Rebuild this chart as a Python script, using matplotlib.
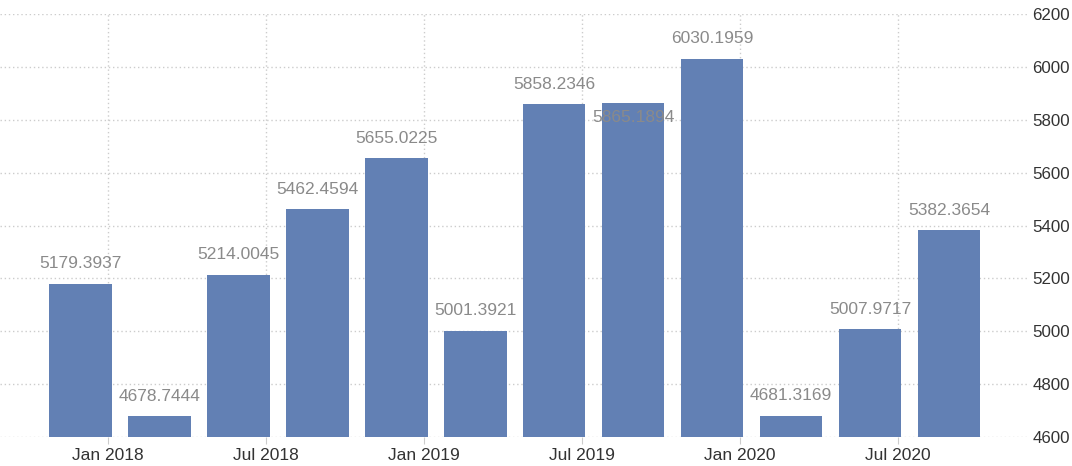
import numpy as np
import matplotlib
matplotlib.use('Agg')
import matplotlib.pyplot as plt

# quarterly values, Q4 2017 .. Q3 2020
values = [5179.3937, 4678.7444, 5214.0045, 5462.4594, 5655.0225, 5001.3921,
          5858.2346, 5865.1894, 6030.1959, 4681.3169, 5007.9717, 5382.3654]
tick_labels = ['Jan 2018', 'Jul 2018', 'Jan 2019', 'Jul 2019', 'Jan 2020', 'Jul 2020']
y_ticks = [4600, 4800, 5000, 5200, 5400, 5600, 5800, 6000, 6200]

plt.rcParams['font.family'] = ['Liberation Sans', 'DejaVu Sans']

fig = plt.figure(figsize=(10.72, 4.66), dpi=100)
ax = fig.add_axes([0.0, 0.062, 0.959, 0.908])

x = np.arange(len(values))
ax.bar(x, values, width=0.79, color='#6280b4', zorder=3)

for i, v in enumerate(values):
    # label of bar 8 got pushed into the bar in the original
    dy = -15 if i == 7 else 20
    ax.annotate('%.4f' % v, (x[i], v), xytext=(0, dy), textcoords='offset pixels',
                ha='center', va='center', fontsize=12.5, color='#8a8a8a', zorder=4)

ax.set_xlim(-1.02, 12.0)
ax.set_ylim(4600, 6200)

ax.set_xticks(np.arange(len(tick_labels)) * 2 + 0.35)
ax.set_xticklabels(tick_labels)
ax.set_yticks(y_ticks)
ax.yaxis.tick_right()

ax.grid(True, color='#cccccc', linestyle=(0, (1, 2)), linewidth=1, zorder=0)
for s in ax.spines.values():
    s.set_visible(False)

ax.tick_params(axis='x', length=5, color='#cccccc', labelsize=12.5,
               labelcolor='#333333', pad=3)
ax.tick_params(axis='y', length=0, labelsize=12.2, labelcolor='#333333', pad=3)

fig.savefig('out.png', dpi=100)
